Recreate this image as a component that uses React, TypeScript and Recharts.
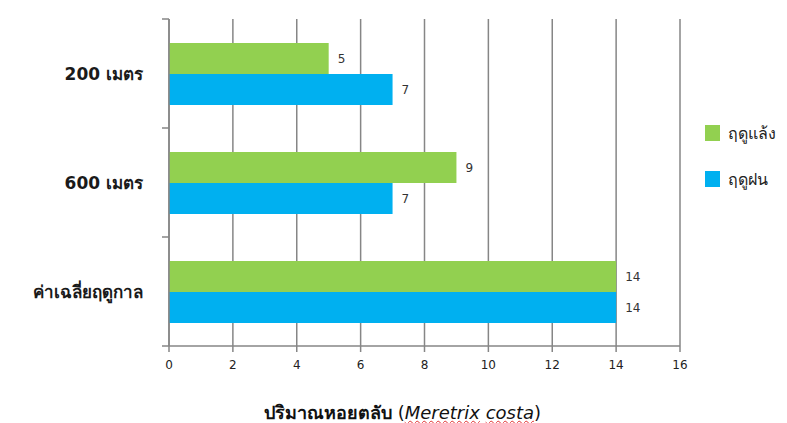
import React from "react";
import { Bar, BarChart, CartesianGrid, LabelList, XAxis, YAxis } from "recharts";

const categories = ["200 เมตร", "600 เมตร", "ค่าเฉลี่ยฤดูกาล"];
const drySeason = [5, 9, 14];
const rainySeason = [7, 7, 14];
const xTicks = [0, 2, 4, 6, 8, 10, 12, 14, 16];
const seriesNames = ["ฤดูแล้ง", "ฤดูฝน"];

const data = categories.map((name, i) => ({
  name,
  dry: drySeason[i],
  rainy: rainySeason[i],
}));

const W = 787;
const H = 423;
const X_H = 30;
const M = { top: 19, right: 107, bottom: 77 - X_H, left: 0 };
const Y_W = 169;
const BAND = (H - M.top - M.bottom - X_H) / categories.length;
const AXIS = "#868686";
const FONT = "Tahoma, 'DejaVu Sans', 'Noto Sans', sans-serif";
const COLORS = ["#92D050", "#00B0F0"];

function CategoryTick(props: any) {
  const { x, y, payload, index } = props;
  const last = index === categories.length - 1;
  return (
    <g>
      <line x1={x + 19} x2={x + 26} y1={y - BAND / 2} y2={y - BAND / 2} stroke={AXIS} strokeWidth={1.5} />
      {last && (
        <line x1={x + 19} x2={x + 26} y1={y + BAND / 2} y2={y + BAND / 2} stroke={AXIS} strokeWidth={1.5} />
      )}
      <text x={x} y={y} dy={6} textAnchor="end" fontSize={17} fontWeight="bold" fill="#1a1a1a" fontFamily={FONT}>
        {payload.value}
      </text>
    </g>
  );
}

export default function App() {
  return (
    <div style={{ position: "absolute", left: 0, top: 0, width: W, height: H, background: "#fff" }}>
      <BarChart
        width={W}
        height={H}
        data={data}
        layout="vertical"
        margin={M}
        barCategoryGap="22%"
        barGap={0}
      >
        <CartesianGrid horizontal={false} stroke={AXIS} strokeWidth={1.5} />
        <XAxis
          type="number"
          domain={[0, 16]}
          ticks={xTicks}
          interval={0}
          height={X_H}
          stroke={AXIS}
          strokeWidth={1.5}
          tickSize={6}
          tickMargin={8}
          tick={{ fill: "#222", fontSize: 12, fontFamily: FONT }}
        />
        <YAxis
          type="category"
          dataKey="name"
          width={Y_W}
          stroke={AXIS}
          strokeWidth={1.5}
          tickLine={false}
          tickSize={0}
          tickMargin={26}
          tick={<CategoryTick />}
        />
        <Bar dataKey="dry" name={seriesNames[0]} fill={COLORS[0]} isAnimationActive={false}>
          <LabelList dataKey="dry" position="right" offset={9} fill="#333" fontSize={12} fontFamily={FONT} />
        </Bar>
        <Bar dataKey="rainy" name={seriesNames[1]} fill={COLORS[1]} isAnimationActive={false}>
          <LabelList dataKey="rainy" position="right" offset={9} fill="#333" fontSize={12} fontFamily={FONT} />
        </Bar>
      </BarChart>
      <div style={{ position: "absolute", left: 705, top: 110, fontFamily: FONT, fontSize: 16, color: "#222" }}>
        {seriesNames.map((s, i) => (
          <div key={s} style={{ display: "flex", alignItems: "center", height: 46 }}>
            <span style={{ width: 15, height: 16, background: COLORS[i], display: "inline-block", marginRight: 8 }} />
            {s}
          </div>
        ))}
      </div>
      <div
        style={{
          position: "absolute",
          left: 0,
          width: 805,
          top: 398,
          textAlign: "center",
          fontFamily: FONT,
          fontSize: 18,
          color: "#111",
        }}
      >
        <b>ปริมาณหอยตลับ</b> (
        <i style={{ textDecoration: "underline wavy #e03030", textDecorationThickness: 1 }}>Meretrix</i>{" "}
        <i style={{ textDecoration: "underline wavy #e03030", textDecorationThickness: 1 }}>costa</i>)
      </div>
    </div>
  );
}
